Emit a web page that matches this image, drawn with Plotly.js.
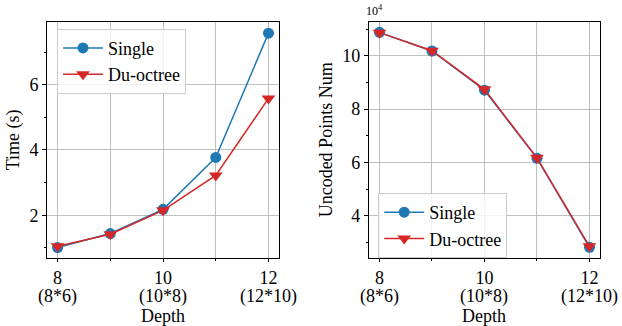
<!DOCTYPE html>
<html><head><meta charset="utf-8">
<script src="https://cdn.plot.ly/plotly-3.0.1.min.js"></script>
<style>body{margin:0;padding:0;background:#fff}#c{width:622px;height:326px}</style>
</head><body><div id="c"></div>
<script>
const depth = [8, 9, 10, 11, 12];
const tickDepth = [8, 10, 12];
const tickTop = ["8", "10", "12"];
const tickBottom = ["(8*6)", "(10*8)", "(12*10)"];
const timeSingle = [1.01, 1.44, 2.18, 3.77, 7.58];
const timeDu = [1.05, 1.42, 2.15, 3.22, 5.58];
const uncodedSingle = [10.88, 10.18, 8.71, 6.15, 2.81]; // x 10^4
const uncodedDu = [10.87, 10.19, 8.74, 6.17, 2.85];    // x 10^4

const blue = '#1f77b4', red = '#d62728';
const FAM = 'Liberation Serif';
const F = (s) => ({family: FAM, size: s || 18, color: '#000'});

function tr(y, name, color, sym, xa, ya, leg) {
  return {x: depth, y: y, name: name, type: 'scatter', mode: 'lines+markers',
    xaxis: xa, yaxis: ya, legend: leg, showlegend: true,
    line: {color: color, width: 1.5},
    marker: {color: color, size: sym === 'circle' ? 11 : 12, symbol: sym}};
}
const data = [
  tr(timeSingle, 'Single', blue, 'circle', 'x', 'y', 'legend'),
  tr(timeDu, 'Du-octree', red, 'triangle-down', 'x', 'y', 'legend'),
  tr(uncodedSingle, 'Single', blue, 'circle', 'x2', 'y2', 'legend2'),
  tr(uncodedDu, 'Du-octree', red, 'triangle-down', 'x2', 'y2', 'legend2')
];
const xax = (dom, anchor) => ({domain: dom, range: [7.8, 12.2], anchor: anchor,
  tickmode: 'array', tickvals: tickDepth, ticktext: tickTop,
  showgrid: true, gridcolor: '#b0b0b0', gridwidth: 0.8, zeroline: false,
  showline: true, linecolor: '#000', linewidth: 1, mirror: true,
  ticks: 'outside', ticklen: 3, tickcolor: '#000', tickfont: F(18),
  minor: {tickmode: 'array', tickvals: [9, 11], ticks: 'outside', ticklen: 2, tickcolor: '#000',
    showgrid: true, gridcolor: '#b0b0b0', gridwidth: 0.8}});
const yax = (range, title, anchor) => ({domain: [0.2086, 0.9334], range: range, anchor: anchor,
  dtick: 2, showgrid: true, gridcolor: '#b0b0b0', gridwidth: 0.8, zeroline: false,
  showline: true, linecolor: '#000', linewidth: 1, mirror: true,
  ticks: 'outside', ticklen: 4, tickcolor: '#000', tickfont: F(18),
  minor: {dtick: 1, tick0: 1, ticks: 'outside', ticklen: 2, tickcolor: '#000', showgrid: false},
  title: {text: title, font: F(18), standoff: 5}});
const legStyle = (x, y) => ({x: x, y: y, xanchor: 'left', yanchor: 'top',
  bgcolor: 'rgba(255,255,255,0.8)', bordercolor: '#cccccc', borderwidth: 1,
  font: F(18), tracegroupgap: 0, itemwidth: 40});

const annotations = [{text: '10<sup>4</sup>', xref: 'paper', yref: 'paper', x: 0.585, y: 0.94,
    xanchor: 'left', yanchor: 'bottom', showarrow: false, font: F(12)}];
['x', 'x2'].forEach(function (xa) {
  tickDepth.forEach(function (d, i) {
    annotations.push({text: tickBottom[i], xref: xa, yref: 'paper', x: d, y: 0.128,
      xanchor: 'center', yanchor: 'top', showarrow: false, font: F(18)});
  });
  annotations.push({text: 'Depth', xref: xa + ' domain', yref: 'paper', x: 0.5, y: 0.068,
    xanchor: 'center', yanchor: 'top', showarrow: false, font: F(18)});
});

const layout = {
  width: 622, height: 326, margin: {l: 0, r: 0, t: 0, b: 0},
  paper_bgcolor: '#fff', plot_bgcolor: '#fff', font: F(18),
  xaxis: xax([0.0756, 0.4486], 'y'),
  yaxis: yax([0.69, 7.93], 'Time (s)', 'x'),
  xaxis2: xax([0.5932, 0.9646], 'y2'),
  yaxis2: yax([2.41, 11.28], 'Uncoded Points Num', 'x2'),
  legend: legStyle(0.0916, 0.912),
  legend2: legStyle(0.608, 0.408),
  annotations: annotations
};
Plotly.newPlot('c', data, layout, {displayModeBar: false, staticPlot: true});
</script></body></html>
